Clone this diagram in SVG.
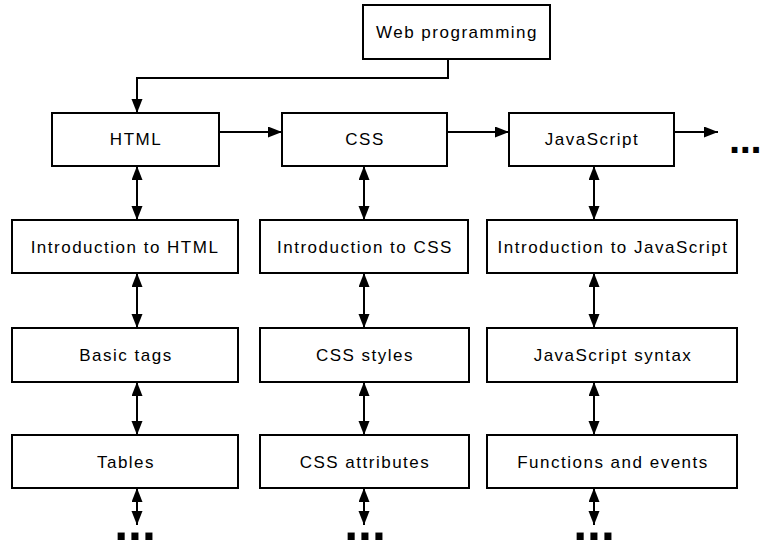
<svg xmlns="http://www.w3.org/2000/svg" width="762" height="540" viewBox="0 0 762 540">
  <style>
    .box { fill: #ffffff; stroke: #000000; stroke-width: 2; }
    .lbl { font-family: "Liberation Sans", Arial, sans-serif; font-size: 17px; letter-spacing: 1.5px; fill: #000000; text-anchor: middle; }
    .dots { font-family: "Liberation Sans", Arial, sans-serif; font-weight: bold; fill: #000000; }
    .wire { fill: none; stroke: #000000; stroke-width: 2; }
    .one { marker-end: url(#head); }
    .two { marker-start: url(#head); marker-end: url(#head); }
  </style>
  <defs>
    <marker id="head" markerUnits="userSpaceOnUse" markerWidth="15" markerHeight="12" refX="14" refY="5.5" orient="auto-start-reverse">
      <path d="M0,0 L14,5.5 L0,11 z" fill="#000000"/>
    </marker>
  </defs>

  <rect x="0" y="0" width="762" height="540" fill="#ffffff"/>

  <!-- connectors -->
  <g id="connectors">
    <!-- root to HTML -->
    <polyline class="wire one" points="448,59 448,78 137,78 137,113"/>
    <!-- sequence across the top row -->
    <line class="wire one" x1="219" y1="132" x2="282" y2="132"/>
    <line class="wire one" x1="447" y1="132" x2="509" y2="132"/>
    <line class="wire one" x1="674" y1="132" x2="718" y2="132"/>
    <!-- HTML column -->
    <line class="wire two" x1="137" y1="166" x2="137" y2="220"/>
    <line class="wire two" x1="137" y1="273" x2="137" y2="328"/>
    <line class="wire two" x1="137" y1="382" x2="137" y2="435"/>
    <line class="wire two" x1="137" y1="488" x2="137" y2="525"/>
    <!-- CSS column -->
    <line class="wire two" x1="364" y1="166" x2="364" y2="220"/>
    <line class="wire two" x1="364" y1="273" x2="364" y2="328"/>
    <line class="wire two" x1="364" y1="382" x2="364" y2="435"/>
    <line class="wire two" x1="364" y1="488" x2="364" y2="525"/>
    <!-- JavaScript column -->
    <line class="wire two" x1="594" y1="166" x2="594" y2="220"/>
    <line class="wire two" x1="594" y1="273" x2="594" y2="328"/>
    <line class="wire two" x1="594" y1="382" x2="594" y2="435"/>
    <line class="wire two" x1="594" y1="488" x2="594" y2="525"/>
  </g>

  <!-- continuation marks -->
  <text class="dots" x="729" y="153" font-size="40" letter-spacing="-0.4">...</text>
  <text class="dots" x="135" y="540" font-size="50" text-anchor="middle">...</text>
  <text class="dots" x="365" y="540" font-size="50" text-anchor="middle">...</text>
  <text class="dots" x="594" y="540" font-size="50" text-anchor="middle">...</text>

  <!-- root -->
  <g id="web-programming">
    <rect class="box" x="363" y="5" width="187" height="54"/>
    <text class="lbl" x="457" y="38">Web programming</text>
  </g>

  <!-- top row -->
  <g id="html">
    <rect class="box" x="52" y="113" width="167" height="53"/>
    <text class="lbl" x="136" y="145">HTML</text>
  </g>
  <g id="css">
    <rect class="box" x="282" y="113" width="165" height="53"/>
    <text class="lbl" x="365" y="145">CSS</text>
  </g>
  <g id="javascript">
    <rect class="box" x="509" y="113" width="165" height="53"/>
    <text class="lbl" x="592" y="145">JavaScript</text>
  </g>

  <!-- second row -->
  <g id="intro-html">
    <rect class="box" x="12" y="220" width="226" height="53"/>
    <text class="lbl" x="125" y="253">Introduction to HTML</text>
  </g>
  <g id="intro-css">
    <rect class="box" x="260" y="220" width="208" height="53"/>
    <text class="lbl" x="365" y="253">Introduction to CSS</text>
  </g>
  <g id="intro-js">
    <rect class="box" x="487" y="220" width="250" height="53"/>
    <text class="lbl" x="613" y="253">Introduction to JavaScript</text>
  </g>

  <!-- third row -->
  <g id="basic-tags">
    <rect class="box" x="12" y="328" width="226" height="54"/>
    <text class="lbl" x="126" y="361">Basic tags</text>
  </g>
  <g id="css-styles">
    <rect class="box" x="260" y="328" width="209" height="54"/>
    <text class="lbl" x="365" y="361">CSS styles</text>
  </g>
  <g id="js-syntax">
    <rect class="box" x="487" y="328" width="250" height="54"/>
    <text class="lbl" x="613" y="361">JavaScript syntax</text>
  </g>

  <!-- fourth row -->
  <g id="tables">
    <rect class="box" x="12" y="435" width="226" height="53"/>
    <text class="lbl" x="126" y="468">Tables</text>
  </g>
  <g id="css-attributes">
    <rect class="box" x="260" y="435" width="209" height="53"/>
    <text class="lbl" x="365" y="468">CSS attributes</text>
  </g>
  <g id="functions-events">
    <rect class="box" x="487" y="435" width="250" height="53"/>
    <text class="lbl" x="613" y="468">Functions and events</text>
  </g>
</svg>
